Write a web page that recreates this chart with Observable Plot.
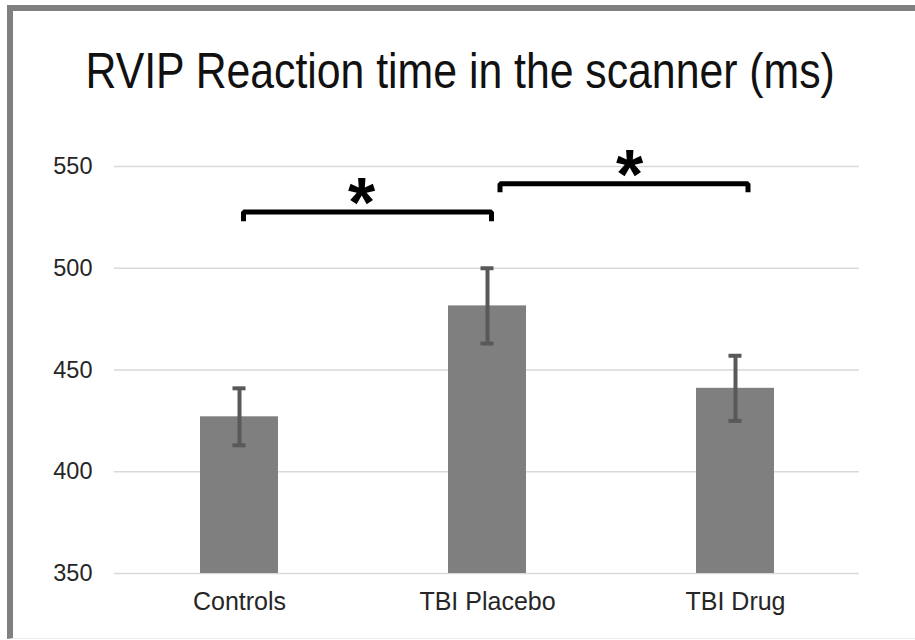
<!DOCTYPE html>
<html>
<head>
<meta charset="utf-8">
<script src="https://cdn.jsdelivr.net/npm/d3@7"></script>
<script src="https://cdn.jsdelivr.net/npm/@observablehq/plot@0.6"></script>
<style>
  html, body { margin: 0; padding: 0; background: #fff; }
  body { width: 915px; height: 640px; overflow: hidden; position: relative; font-family: "Liberation Sans", Arial, sans-serif; }
  #frame { position: absolute; left: 7px; top: 5px; width: 2000px; height: 634px;
           border-left: 6px solid #808080; border-top: 6px solid #808080;
           border-bottom: 1px solid #ececec; box-sizing: border-box; }
  #wrap { position: absolute; left: 0; top: 0; width: 915px; }
  #title { box-sizing: border-box; height: 120px; padding-top: 46px; padding-left: 5px;
           text-align: center; font-size: 50px; line-height: 1; color: #111; white-space: nowrap; }
  #title span { display: inline-block; transform: scaleX(0.855); transform-origin: 50% 50%; }
  #chart svg { display: block; }
</style>
</head>
<body>
<div id="frame"></div>
<div id="wrap">
  <div id="title"><span>RVIP Reaction time in the scanner (ms)</span></div>
  <div id="chart"></div>
</div>
<script>
// ---- data ----
const categories = ["Controls", "TBI Placebo", "TBI Drug"];
const means = [427, 481.5, 441];
const errors = [14, 18.5, 16];
const yTicks = [350, 400, 450, 500, 550];
const bracketFrom = ["Controls", "TBI Placebo"];
const bracketTo = ["TBI Placebo", "TBI Drug"];
const bracketLevel = [527.7, 541.5];
const bracketEnd = [523.1, 537.3];
const bracketLabels = ["*", "*"];

// ---- tables built from arrays ----
const rows = categories.map((c, i) => ({cat: c, mean: means[i], lo: means[i] - errors[i], hi: means[i] + errors[i]}));
const bracketPts = bracketFrom.map((f, i) => [
  {x: f, y: bracketEnd[i]},
  {x: f, y: bracketLevel[i]},
  {x: bracketTo[i], y: bracketLevel[i]},
  {x: bracketTo[i], y: bracketEnd[i]}
]);
const labelRows = bracketFrom.map((f, i) => ({x: f, y: bracketLevel[i], t: bracketLabels[i]}));

const W = 915, ML = 114, MR = 56;
const step = (W - ML - MR) / categories.length;
const padInner = 0.686;
const bandW = step * (1 - padInner);
const capInset = (bandW - 13) / 2;

const plot = Plot.plot({
  width: W,
  height: 520,
  marginLeft: ML,
  marginRight: MR,
  marginTop: 46,
  marginBottom: 67,
  style: {fontFamily: "'Liberation Sans', Arial, sans-serif", fontSize: "24px", color: "#262626", background: "transparent", overflow: "visible"},
  x: {domain: categories, paddingInner: padInner, paddingOuter: padInner / 2, label: null},
  y: {domain: [350, 550], label: null},
  marks: [
    Plot.gridY(yTicks, {stroke: "#d9d9d9", strokeOpacity: 1, strokeWidth: 1.6}),
    Plot.barY(rows, {x: "cat", y1: yTicks[0], y2: "mean", fill: "#7f7f7f"}),
    Plot.ruleX(rows, {x: "cat", y1: "lo", y2: "hi", stroke: "#595959", strokeWidth: 4}),
    Plot.tickY(rows, {x: "cat", y: "lo", stroke: "#595959", strokeWidth: 4, insetLeft: capInset, insetRight: capInset}),
    Plot.tickY(rows, {x: "cat", y: "hi", stroke: "#595959", strokeWidth: 4, insetLeft: capInset, insetRight: capInset}),
    Plot.axisY(yTicks, {tickSize: 0, tickPadding: 22, fontSize: 23.5, label: null}),
    Plot.axisX({tickSize: 0, tickPadding: 19, fontSize: 25, label: null}),
    Plot.line(bracketPts[0], {x: "x", y: "y", stroke: "#000", strokeWidth: 5, strokeLinejoin: "miter", strokeLinecap: "butt", dx: 4}),
    Plot.line(bracketPts[1], {x: "x", y: "y", stroke: "#000", strokeWidth: 5, strokeLinejoin: "miter", strokeLinecap: "butt", dx: 12.5}),
    Plot.text([labelRows[0]], {x: "x", y: "y", text: "t", dx: step / 2 - 2, dy: 15, fontSize: 70, fontWeight: "bold", fill: "#000", lineAnchor: "bottom"}),
    Plot.text([labelRows[1]], {x: "x", y: "y", text: "t", dx: step / 2 + 18, dy: 15, fontSize: 70, fontWeight: "bold", fill: "#000", lineAnchor: "bottom"})
  ]
});
document.getElementById("chart").appendChild(plot);
</script>
</body>
</html>
